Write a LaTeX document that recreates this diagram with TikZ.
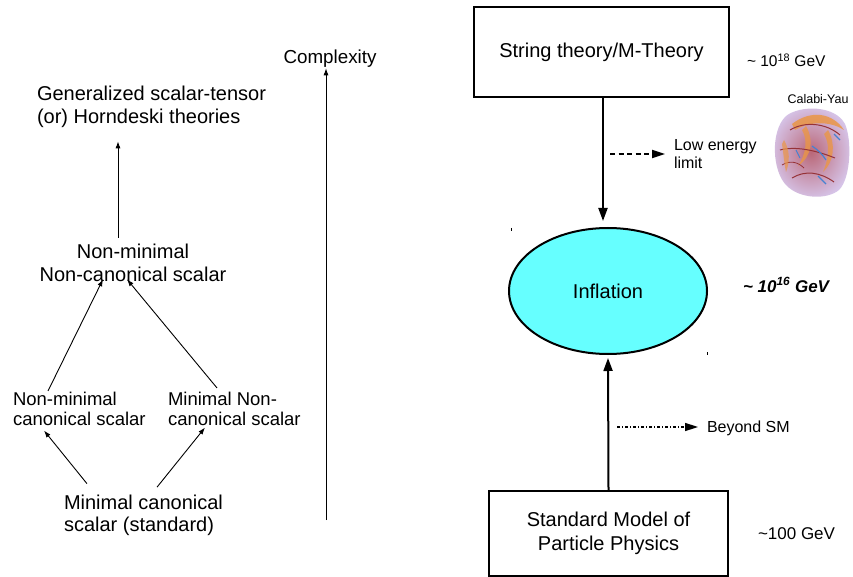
\documentclass[tikz,border=0pt]{standalone}
\usepackage{fontspec}
\setmainfont{Liberation Sans}
\usetikzlibrary{arrows.meta,shapes.geometric}
\definecolor{infcyan}{RGB}{102,255,255}
\definecolor{cymauve}{RGB}{186,104,120}
\definecolor{cylav}{RGB}{214,196,232}
\definecolor{cyorange}{RGB}{234,150,70}
\definecolor{cyred}{RGB}{150,50,55}
\definecolor{cyblue}{RGB}{70,130,210}
\begin{document}
\begin{tikzpicture}[x=1pt,y=-1pt,
  lbl/.style={inner sep=0pt, outer sep=0pt},
  ftwenty/.style={font=\fontsize{20}{23}\selectfont},
  fmid/.style={font=\fontsize{18.5}{19.5}\selectfont},
  fsmall/.style={font=\fontsize{16}{18}\selectfont},
  thinarr/.style={line width=0.9pt, -{Latex[length=7pt,width=5pt]}},
  bigarr/.style={line width=2pt, -{Triangle[length=13pt,width=9pt]}},
  boxnode/.style={draw, inner sep=0pt, align=center},
  ]
\useasboundingbox (0,0) rectangle (853,577);
\fill[white] (0,0) rectangle (853,577);

% ---------- left: hierarchy of scalar theories ----------
\node[lbl,ftwenty,align=left,anchor=west] (gen) at (37,107) {Generalized scalar-tensor\\(or) Horndeski theories};
\node[lbl,ftwenty,align=center] (nmnc) at (133,263) {Non-minimal\\Non-canonical scalar};
\node[lbl,fmid,align=left,anchor=west] (nmc) at (13,409) {Non-minimal\\canonical scalar};
\node[lbl,fmid,align=left,anchor=west] (mnc) at (168,409) {Minimal Non-\\canonical scalar};
\node[lbl,font=\fontsize{20}{22}\selectfont,align=left,anchor=west] (mcs) at (64,515.5) {Minimal canonical\\scalar (standard)};
\node[lbl,font=\fontsize{18.8}{20}\selectfont] (cx) at (330,58.5) {Complexity};

\draw[thinarr] ([xshift=-15pt,yshift=6.5pt]nmnc.north) -- ([xshift=81pt,yshift=-13.5pt]gen.south west);
\draw[thinarr] ([xshift=35pt,yshift=1.5pt]nmc.north west) -- ([xshift=-30pt,yshift=2.5pt]nmnc.south);
\draw[thinarr] ([xshift=49pt,yshift=4.5pt]mnc.north west) -- ([xshift=-6pt,yshift=2.5pt]nmnc.south);
\draw[thinarr] ([xshift=23pt,yshift=11.5pt]mcs.north west) -- ([xshift=31pt,yshift=-5pt]nmc.south west);
\draw[thinarr] ([xshift=93pt,yshift=8pt]mcs.north west) -- ([xshift=37pt,yshift=-2pt]mnc.south west);

\coordinate (cxbase) at (326,520);
\draw[thinarr, shorten >=1pt] (cxbase) -- (cxbase |- cx.south);

% ---------- right: energy scales ----------
\node[boxnode, line width=2pt, minimum width=255pt, minimum height=90pt, ftwenty] (st) at (601.5,52) {String theory/M-Theory};
\node[lbl,font=\fontsize{15.5}{18}\selectfont,anchor=west] (e18) at (747,60) {\textasciitilde{} 10\textsuperscript{18} GeV};

\node[lbl,fsmall,align=left,anchor=west] (le) at (674,154) {Low energy\\limit};
\draw[line width=1.8pt, dash pattern=on 5pt off 3.5pt, -{Triangle[length=13pt,width=8pt]}] ([xshift=-64pt]le.west) -- ([xshift=-9pt]le.west);

\node[lbl,font=\fontsize{12.5}{14}\selectfont] (cy) at (818,99) {Calabi-Yau};
% Calabi-Yau surface sketch
\shade[inner color=cymauve, outer color=cylav] (786,116) .. controls (800,105) and (835,105) .. (845,124) .. controls (852,140) and (851,178) .. (839,190) .. controls (827,200) and (800,199) .. (787,186) .. controls (772,172) and (770,131) .. (786,116) -- cycle;
\fill[cyorange, opacity=0.85] (792,124) .. controls (810,110) and (832,112) .. (844,130) .. controls (832,122) and (812,120) .. (795,130) -- cycle;
\fill[cyorange, opacity=0.8] (806,126) .. controls (814,140) and (812,156) .. (798,166) .. controls (806,154) and (808,140) .. (802,130) -- cycle;
\fill[cyorange, opacity=0.8] (828,130) .. controls (836,144) and (834,162) .. (823,172) .. controls (829,158) and (830,144) .. (824,134) -- cycle;
\draw[cyred, line width=1pt] (790,130) .. controls (805,121) and (826,123) .. (840,135);
\draw[cyred, line width=1pt] (780,150) .. controls (795,146) and (815,150) .. (835,158);
\draw[cyred, line width=1pt] (792,178) .. controls (805,170) and (820,172) .. (834,182);
\draw[cyred, line width=0.8pt] (782,165) .. controls (790,160) and (798,162) .. (804,168);
\draw[cyblue, line width=1.2pt] (812,146) .. controls (818,150) and (822,154) .. (826,160);
\draw[cyblue, line width=1.2pt] (834,134) -- (840,140);
\draw[cyblue, line width=1.2pt] (818,176) -- (826,184);
\draw[cyblue, line width=1pt] (796,150) -- (800,158);
\fill[cyorange, opacity=0.7] (784,140) .. controls (790,150) and (790,162) .. (786,172) .. controls (784,162) and (783,150) .. (782,144) -- cycle;

\node[ellipse, draw, line width=2pt, fill=infcyan, minimum width=198pt, minimum height=126pt, inner sep=0pt, ftwenty] (inf) at (608,291) {Inflation};
\node[lbl,font=\fontsize{17}{18}\selectfont\bfseries\itshape,anchor=west] (e16) at (743,285) {\textasciitilde{} 10\textsuperscript{16} GeV};
\draw[line width=0.8pt] (511,228) -- (511,231);
\draw[line width=0.8pt] (707,352) -- (707,355);

\node[lbl,fsmall,anchor=west] (bsm) at (707,428) {Beyond SM};
\draw[line width=1.5pt, dash pattern=on 3pt off 2pt on 1pt off 2pt, -{Triangle[length=13pt,width=8pt]}] ([xshift=-90pt,yshift=1pt]bsm.west) -- ([xshift=-9pt,yshift=1pt]bsm.west);

\node[boxnode, line width=2.5pt, minimum width=239pt, minimum height=85pt, font=\fontsize{20}{24}\selectfont] (sm) at (608.5,533.5) {Standard Model of\\Particle Physics};
\node[lbl,font=\fontsize{17}{18}\selectfont,anchor=west] (e100) at (758,534) {\textasciitilde100 GeV};

\draw[bigarr] ([xshift=1.5pt]st.south) -- ([xshift=-5pt,yshift=6pt]inf.north);
\draw[bigarr] (sm.north) -- ([yshift=-3pt]inf.south);
\end{tikzpicture}
\end{document}
